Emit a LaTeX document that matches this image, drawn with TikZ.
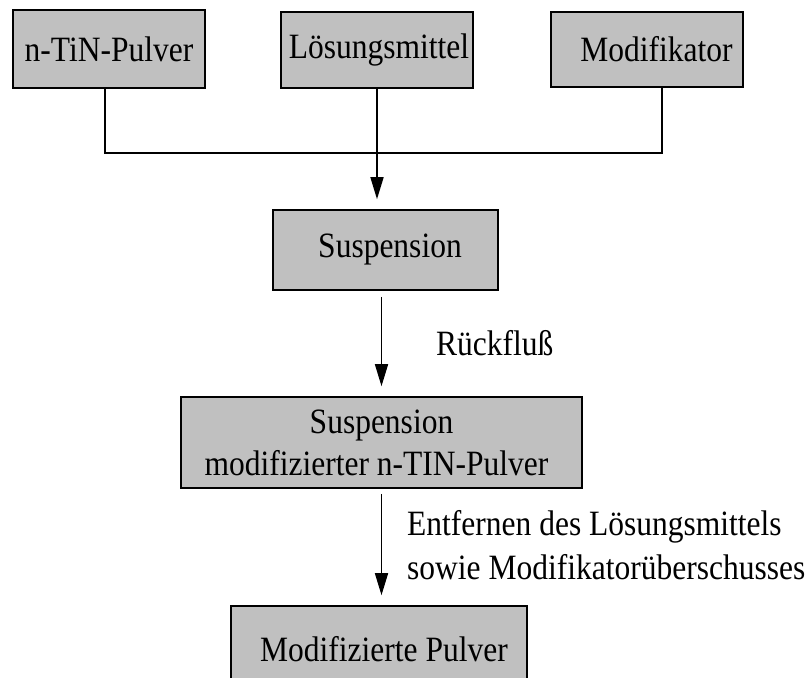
\documentclass[tikz,border=0pt]{standalone}
\usepackage{fontspec}
\setmainfont{Liberation Serif}
\usetikzlibrary{arrows.meta}
\definecolor{boxgray}{HTML}{C0C0C0}
\newcommand{\vst}[1]{\scalebox{1}[1.13]{#1}}
\begin{document}
\begin{tikzpicture}[x=1pt,y=-1pt,
  every node/.style={font=\fontsize{31.5}{42}\selectfont},
  box/.style={draw=black, fill=boxgray, line width=1.6pt, inner sep=0pt, align=center},
  plain/.style={inner sep=0pt, align=center},
  conn/.style={line width=1.6pt},
  arr/.style={line width=1.6pt, -{Triangle[length=22pt,width=13pt]}},
  lbl/.style={inner sep=0pt, anchor=west, align=left}]
\useasboundingbox (0,0) rectangle (808,677);
\node[box, minimum width=192pt, minimum height=78pt] (a) at (109,49) {\vst{n-TiN-Pulver}};
\node[box, minimum width=192pt, minimum height=76pt] (b) at (377,50) {\hspace*{4pt}\vst{Lösungsmittel}};
\node[box, minimum width=192pt, minimum height=75pt] (c) at (647,49.5) {\hspace*{19pt}\vst{Modifikator}};
\node[box, minimum width=225pt, minimum height=80pt] (s) at (385.5,250) {\hspace*{9pt}\vst{Suspension}};
\node[box, minimum width=401pt, minimum height=91pt] (m) at (381.5,442.5) {\vst{Suspension}\\\vst{modifizierter n-TIN-Pulver}\hspace*{10pt}};
\node[box, minimum width=296pt, minimum height=100pt] (p) at (379,656) {};
\node[plain] (pt) at (384,649) {\vst{Modifizierte Pulver}};
\coordinate (ja) at (105,153);
\coordinate (jc) at (662,153);
\draw[conn] (a.south -| ja) -- (ja) -- (jc) -- (c.south -| jc);
\draw[arr, shorten >=10pt] (b.south) -- (b.south |- s.north);
\draw[arr, shorten <=6pt, shorten >=10pt] (s.south -| m.north) -- (m.north);
\draw[arr, shorten <=5pt, shorten >=10pt] (m.south) -- (m.south |- p.north);
\node[lbl] (r) at (436,343) {\vst{Rückfluß}};
\node[lbl] (e1) at (407,527) {\vst{Entfernen des Lösungsmittels}};
\node[lbl] (e2) at (407,567) {\vst{sowie Modifikatorüberschusses}};
\end{tikzpicture}
\end{document}
